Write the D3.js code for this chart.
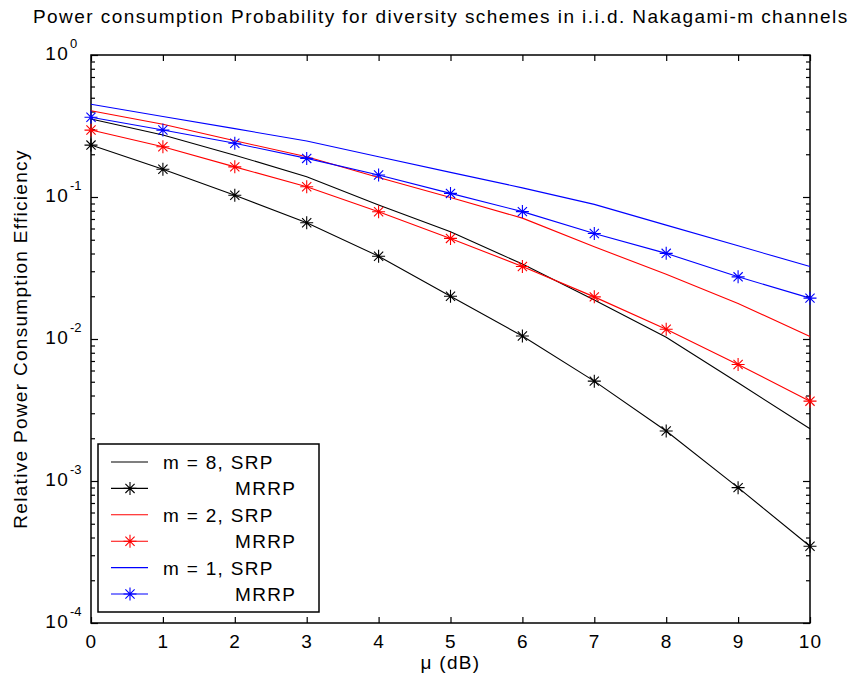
<!DOCTYPE html>
<html>
<head>
<meta charset="utf-8">
<script src="https://cdn.jsdelivr.net/npm/d3@7"></script>
<style>
  body { margin: 0; background: #fff; }
  svg { font-family: "Liberation Sans", Arial, sans-serif; }
  .lbl { font-size: 19px; letter-spacing: 1.3px; }
</style>
</head>
<body>
<div id="canvas"></div>
<script>
// --- data
var muDb = [0, 1, 2, 3, 4, 5, 6, 7, 8, 9, 10];
var m8Srp  = [0.354, 0.273, 0.197, 0.139, 0.0877, 0.0569, 0.0337, 0.0188, 0.0103, 0.00492, 0.00233];
var m8Mrrp = [0.232, 0.157, 0.103, 0.0658, 0.0383, 0.0200, 0.0105, 0.00505, 0.00225, 0.000898, 0.000347];
var m2Srp  = [0.405, 0.325, 0.249, 0.192, 0.137, 0.0993, 0.0710, 0.0446, 0.0286, 0.0178, 0.0104];
var m2Mrrp = [0.296, 0.226, 0.163, 0.118, 0.0787, 0.0511, 0.0324, 0.0198, 0.0117, 0.00661, 0.00365];
var m1Srp  = [0.450, 0.369, 0.303, 0.248, 0.192, 0.149, 0.116, 0.0887, 0.0634, 0.0453, 0.0324];
var m1Mrrp = [0.364, 0.296, 0.239, 0.187, 0.143, 0.106, 0.0789, 0.0553, 0.0401, 0.0274, 0.0194];

var legendLabels = ['m = 8, SRP', 'MRRP', 'm = 2, SRP', 'MRRP', 'm = 1, SRP', 'MRRP'];
var xTicks = [0, 1, 2, 3, 4, 5, 6, 7, 8, 9, 10];
var yDecades = [0, -1, -2, -3, -4];

var series = [
  {vals: m8Srp,  color: '#000', star: false},
  {vals: m8Mrrp, color: '#000', star: true},
  {vals: m2Srp,  color: '#f00', star: false},
  {vals: m2Mrrp, color: '#f00', star: true},
  {vals: m1Srp,  color: '#00f', star: false},
  {vals: m1Mrrp, color: '#00f', star: true}
];

// --- margins
var W = 854, H = 682;
var M = {top: 55, right: 44, bottom: 59, left: 91};
var w = W - M.left - M.right,
    h = H - M.top - M.bottom;

var svg = d3.select('#canvas').append('svg')
  .attr('width', W).attr('height', H);

var plot = svg.append('g')
  .attr('transform', 'translate(' + M.left + ',' + M.top + ')');

// --- scales
var x = d3.scaleLinear().domain([0, 10]).range([0, w]);
var y = d3.scaleLog().domain([1e-4, 1]).range([h, 0]);

// --- axes (inward ticks)
var minorTicks = y.ticks();
var isMajor = function(d) { return Math.abs(Math.log10(d) - Math.round(Math.log10(d))) < 1e-9; };

plot.append('g')
  .attr('transform', 'translate(0,' + h + ')')
  .call(d3.axisBottom(x).tickValues(xTicks).tickSize(-6).tickPadding(12).tickFormat(d3.format('d')));
plot.append('g')
  .call(d3.axisTop(x).tickValues(xTicks).tickSize(-6).tickFormat(''));

var yl = plot.append('g')
  .call(d3.axisLeft(y).tickValues(minorTicks).tickSize(-4).tickFormat(''));
yl.selectAll('.tick line').filter(isMajor).attr('x2', 7);
var yr = plot.append('g')
  .attr('transform', 'translate(' + w + ',0)')
  .call(d3.axisRight(y).tickValues(minorTicks).tickSize(-4).tickFormat(''));
yr.selectAll('.tick line').filter(isMajor).attr('x2', -7);

plot.selectAll('.domain').remove();
plot.selectAll('.tick line').attr('stroke', '#000').attr('stroke-width', 1.2);
plot.selectAll('.tick text').attr('class', 'lbl').attr('font-size', null).attr('fill', '#000')
  .attr('font-family', null);

plot.append('rect')
  .attr('width', w).attr('height', h)
  .attr('fill', 'none').attr('stroke', '#000').attr('stroke-width', 1.5);

// y labels as 10^n
var ylab = svg.append('g');
yDecades.forEach(function(p) {
  var ty = M.top + y(Math.pow(10, p));
  ylab.append('text')
    .attr('class', 'lbl')
    .attr('x', 69).attr('y', ty + 5)
    .attr('text-anchor', 'end')
    .text('10');
  ylab.append('text')
    .attr('x', 70).attr('y', ty - 7)
    .attr('font-size', 13)
    .text(p);
});

// --- lines and markers
var line = d3.line()
  .x(function(d, i) { return x(muDb[i]); })
  .y(function(d) { return y(d); });

function star(g, cx, cy, color) {
  var r = 6.5, q = 4.6;
  g.append('path')
    .attr('d', 'M' + (cx - r) + ',' + cy + 'H' + (cx + r) +
               'M' + cx + ',' + (cy - r) + 'V' + (cy + r) +
               'M' + (cx - q) + ',' + (cy - q) + 'L' + (cx + q) + ',' + (cy + q) +
               'M' + (cx - q) + ',' + (cy + q) + 'L' + (cx + q) + ',' + (cy - q))
    .attr('stroke', color).attr('stroke-width', 1.1).attr('fill', 'none');
}

series.forEach(function(s) {
  plot.append('path')
    .attr('d', line(s.vals))
    .attr('fill', 'none')
    .attr('stroke', s.color)
    .attr('stroke-width', 1.1);
  if (s.star) {
    s.vals.forEach(function(v, i) { star(plot, x(muDb[i]), y(v), s.color); });
  }
});

// --- legend
var lg = svg.append('g');
lg.append('rect')
  .attr('x', 98).attr('y', 444).attr('width', 221).attr('height', 168)
  .attr('fill', '#fff').attr('stroke', '#000').attr('stroke-width', 1.5);
var rowY = d3.scaleLinear().domain([0, 5]).range([462, 594]);
series.forEach(function(s, i) {
  var ly = rowY(i);
  lg.append('line')
    .attr('x1', 111).attr('x2', 148).attr('y1', ly).attr('y2', ly)
    .attr('stroke', s.color).attr('stroke-width', 1.1);
  if (s.star) star(lg, 130, ly, s.color);
  lg.append('text')
    .attr('class', 'lbl')
    .attr('x', s.star ? 235 : 163).attr('y', ly + 7)
    .text(legendLabels[i]);
});

// --- titles
svg.append('text')
  .attr('class', 'lbl')
  .style('letter-spacing', '1.44px')
  .attr('x', 33).attr('y', 23)
  .text('Power consumption Probability for diversity schemes in i.i.d. Nakagami-m channels');

svg.append('text')
  .attr('class', 'lbl')
  .attr('x', M.left + w / 2).attr('y', 669)
  .attr('text-anchor', 'middle')
  .text('\u03bc (dB)');

svg.append('text')
  .attr('class', 'lbl')
  .attr('transform', 'translate(27,' + (M.top + h / 2) + ') rotate(-90)')
  .attr('text-anchor', 'middle')
  .text('Relative Power Consumption Efficiency');
</script>
</body>
</html>
